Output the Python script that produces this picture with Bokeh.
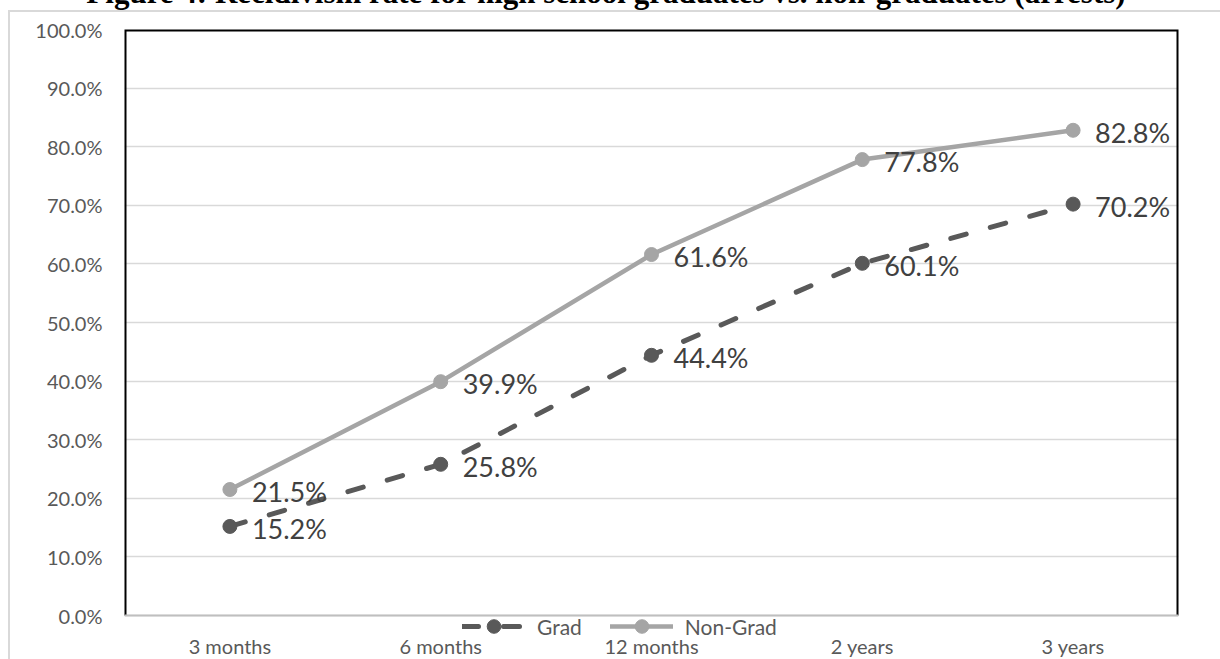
from bokeh.plotting import figure
from bokeh.layouts import column
from bokeh.models import (ColumnDataSource, FactorRange, Range1d, FixedTicker,
                          NumeralTickFormatter, LabelSet, Legend, LegendItem, Div)
from bokeh.core.properties import value
from bokeh.embed import file_html
from bokeh.resources import INLINE

# Recidivism data (share re-arrested within each follow-up window)
periods = ["3 months", "6 months", "12 months", "2 years", "3 years"]
grad = [0.152, 0.258, 0.444, 0.601, 0.702]
non_grad = [0.215, 0.399, 0.616, 0.778, 0.828]
y_ticks = [0.0, 0.1, 0.2, 0.3, 0.4, 0.5, 0.6, 0.7, 0.8, 0.9, 1.0]
title_text = "Figure 4: Recidivism rate for high school graduates vs. non-graduates (arrests)"

FONT = "Lato"
GRAD_COLOR = "#595959"
NONGRAD_COLOR = "#A5A5A5"
TEXT_COLOR = "#595959"
LABEL_COLOR = "#404040"
BOX_COLOR = "#D9D9D9"

# page geometry
W, H = 1220, 659
HEAD = 10                 # strip above the chart box holding the caption
BOX_LEFT = 8              # left edge of the chart box
CANVAS_SHIFT = 2          # canvas offset inside the bordered box
LEFT, RIGHT, TOP = 124, 1178, 29   # plot area on the page
ZERO_Y = 615              # page row of the 0% line
LEGEND_MID = 626          # page row of the legend's centre line
LEGEND_H = 34             # legend box height (sets the legend marker size)
LEGEND_X = 462            # left edge of the legend on the page
LABEL_TOP = 633           # page row where the category labels start
FRAME_BOTTOM = LEGEND_MID + LEGEND_H // 2

caption = Div(
    text=(f'<div style="position:relative;width:{W}px;height:{HEAD}px;">'
          f'<div style="position:absolute;left:0;top:-25px;width:1212px;'
          f'text-align:center;white-space:nowrap;font-family:\'Liberation Serif\';'
          f'font-weight:bold;font-size:31px;line-height:31px;color:black;">'
          f'{title_text}</div></div>'),
    width=W, height=HEAD, margin=0, styles={"overflow": "visible"})

ox, oy = BOX_LEFT + CANVAS_SHIFT, HEAD + CANVAS_SHIFT
fw, fh = W - BOX_LEFT, H - HEAD

# the frame reaches below 0% so the legend strip lies inside it
px_per_unit = (ZERO_Y - TOP) / 1.0
y_start = -(FRAME_BOTTOM - ZERO_Y) / px_per_unit

p = figure(width=fw, height=fh, x_range=FactorRange(*periods, range_padding=0),
           y_range=Range1d(y_start, 1.0), output_backend="svg", toolbar_location=None,
           min_border_left=LEFT - ox, min_border_right=(ox + fw) - RIGHT,
           min_border_top=TOP - oy, min_border_bottom=(oy + fh) - FRAME_BOTTOM,
           margin=(0, 0, 0, BOX_LEFT),
           styles={"border-top": f"2px solid {BOX_COLOR}",
                   "border-left": f"2px solid {BOX_COLOR}",
                   "box-sizing": "border-box"})
p.background_fill_color = "white"
p.border_fill_color = "white"
p.outline_line_color = None

# y axis
p.yaxis.ticker = FixedTicker(ticks=y_ticks)
p.yaxis.formatter = NumeralTickFormatter(format="0.0%")
p.yaxis.axis_line_color = None
p.yaxis.major_tick_line_color = None
p.yaxis.minor_tick_line_color = None
p.yaxis.major_tick_in = 0
p.yaxis.major_tick_out = 0
p.yaxis.major_label_standoff = 22
p.yaxis.major_label_text_font = FONT
p.yaxis.major_label_text_font_size = "20px"
p.yaxis.major_label_text_color = TEXT_COLOR

# x axis: category labels just under the legend strip
p.xaxis.axis_line_color = None
p.xaxis.major_tick_line_color = None
p.xaxis.minor_tick_line_color = None
p.xaxis.major_tick_in = 0
p.xaxis.major_tick_out = 0
p.xaxis.major_label_standoff = LABEL_TOP - FRAME_BOTTOM
p.xaxis.major_label_text_font = FONT
p.xaxis.major_label_text_font_size = "20px"
p.xaxis.major_label_text_color = TEXT_COLOR

p.xgrid.grid_line_color = None
p.ygrid.grid_line_color = BOX_COLOR
p.ygrid.grid_line_width = 1.5

# plot-area border: black on left/top/right, grey axis line along 0%
n = len(periods)
p.line(x=[0, 0, n, n], y=[0.0, 1.0, 1.0, 0.0], line_color="black", line_width=4)
p.line(x=[0, n], y=[0.0, 0.0], line_color="#BFBFBF", line_width=2)

src = ColumnDataSource(dict(
    period=periods, grad=grad, non_grad=non_grad,
    grad_txt=[f"{v * 100:.1f}%" for v in grad],
    non_grad_txt=[f"{v * 100:.1f}%" for v in non_grad],
))

ng_line = p.line("period", "non_grad", source=src, line_color=NONGRAD_COLOR,
                 line_width=4.5, line_cap="round", line_join="round")
ng_dot = p.scatter("period", "non_grad", source=src, size=14,
                   fill_color=NONGRAD_COLOR, line_color=NONGRAD_COLOR)
g_line = p.line("period", "grad", source=src, line_color=GRAD_COLOR,
                line_width=5, line_dash="16 25", line_cap="round")
g_dot = p.scatter("period", "grad", source=src, size=14,
                  fill_color=GRAD_COLOR, line_color=GRAD_COLOR)

for col in ("non_grad", "grad"):
    p.add_layout(LabelSet(x="period", y=col, text=col + "_txt", source=src,
                          x_offset=22, y_offset=-2, text_baseline="middle",
                          text_align="left", text_font=value(FONT),
                          text_font_size="27px", text_color=LABEL_COLOR))

# legend in the strip between the 0% line and the category labels
legend = Legend(items=[LegendItem(label="Grad", renderers=[g_line, g_dot]),
                       LegendItem(label="Non-Grad", renderers=[ng_line, ng_dot])],
                orientation="horizontal", location=(LEGEND_X - LEFT, 0),
                glyph_width=63, glyph_height=LEGEND_H, label_height=LEGEND_H,
                label_standoff=12, spacing=28, padding=0, margin=0,
                border_line_color=None, background_fill_alpha=0,
                label_text_font=FONT, label_text_font_size="21px",
                label_text_color=TEXT_COLOR, label_text_baseline="middle")
p.add_layout(legend, "center")

layout = column(caption, p, spacing=0, margin=0)
open("out.html", "w").write(file_html(layout, INLINE))
